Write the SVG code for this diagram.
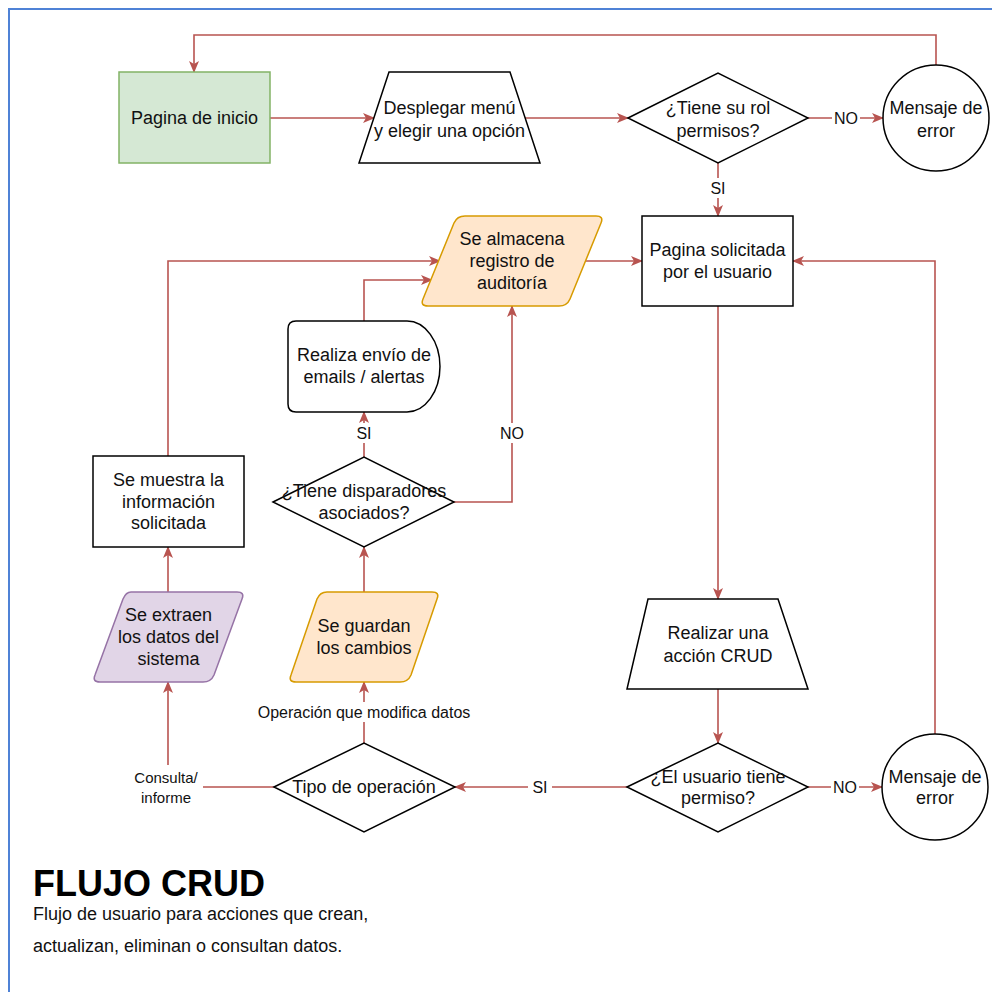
<svg xmlns="http://www.w3.org/2000/svg" width="992" height="992" viewBox="0 0 992 992">
<defs>
<marker id="arr" viewBox="0 0 12 10" refX="11" refY="5" markerWidth="12" markerHeight="10" markerUnits="userSpaceOnUse" orient="auto">
<path d="M0,0 L12,5 L0,10 L3,5 Z" fill="#b85450"/>
</marker>
<style>
.n{stroke:#000;stroke-width:1.5;fill:#fff}
.g{fill:#d5e8d4;stroke:#82b366;stroke-width:1.5}
.o{fill:#ffe6cc;stroke:#d79b00;stroke-width:1.5;stroke-linejoin:round}
.p{fill:#e1d5e7;stroke:#9673a6;stroke-width:1.5;stroke-linejoin:round}
.t{font-family:"Liberation Sans",Arial,sans-serif;font-size:18px;fill:#111;text-anchor:middle}
.c{fill:none;stroke:#b85450;stroke-width:1.6}
.l{font-family:"Liberation Sans",Arial,sans-serif;font-size:16px;fill:#111;text-anchor:middle}
.lb{fill:#fff}
</style>
</defs>
<rect x="9" y="9" width="1000" height="1000" fill="#fff" stroke="#4f82d6" stroke-width="2"/>

<g id="connectors">
<path class="c" d="M270,118 H374" marker-end="url(#arr)"/>
<path class="c" d="M525,118 H628" marker-end="url(#arr)"/>
<path class="c" d="M808,118 H883" marker-end="url(#arr)"/>
<path class="c" d="M718,163 V216" marker-end="url(#arr)"/>
<path class="c" d="M936,65 V35 H194 V72" marker-end="url(#arr)"/>
<path class="c" d="M718,306 V599" marker-end="url(#arr)"/>
<path class="c" d="M718,689 V743" marker-end="url(#arr)"/>
<path class="c" d="M808,787 H882" marker-end="url(#arr)"/>
<path class="c" d="M935,734 V261 H793" marker-end="url(#arr)"/>
<path class="c" d="M627,787 H455" marker-end="url(#arr)"/>
<path class="c" d="M364,743 V682" marker-end="url(#arr)"/>
<path class="c" d="M274,787 H168 V682" marker-end="url(#arr)"/>
<path class="c" d="M168,592 V547" marker-end="url(#arr)"/>
<path class="c" d="M168,456 V261 H440" marker-end="url(#arr)"/>
<path class="c" d="M364,592 V547" marker-end="url(#arr)"/>
<path class="c" d="M364,457 V412" marker-end="url(#arr)"/>
<path class="c" d="M364,321 V280 H432" marker-end="url(#arr)"/>
<path class="c" d="M454,502 H512 V306" marker-end="url(#arr)"/>
<path class="c" d="M584,261 H642" marker-end="url(#arr)"/>
<rect class="lb" x="832" y="108" width="28" height="20"/>
<text class="l" x="846" y="124">NO</text>
<rect class="lb" x="706" y="178" width="24" height="20"/>
<text class="l" x="718" y="194">SI</text>
<rect class="lb" x="831" y="777" width="28" height="20"/>
<text class="l" x="845" y="793">NO</text>
<rect class="lb" x="528" y="777" width="24" height="20"/>
<text class="l" x="540" y="793">SI</text>
<rect class="lb" x="352" y="423" width="24" height="20"/>
<text class="l" x="364" y="439">SI</text>
<rect class="lb" x="498" y="423" width="28" height="20"/>
<text class="l" x="512" y="439">NO</text>
<rect class="lb" x="254" y="702" width="220" height="20"/>
<text class="l" x="364" y="718">Operación que modifica datos</text>
<rect class="lb" x="131" y="765" width="72" height="42"/>
<text class="l" style="font-size:15px" x="166" y="783">Consulta/</text>
<text class="l" style="font-size:15px" x="166" y="803">informe</text>
</g>

<g id="inicio">
<rect class="g" x="119" y="72" width="151" height="91"/>
<text class="t" x="194.5" y="124">Pagina de inicio</text>
</g>
<g id="desplegar">
<path class="n" d="M389,72 H510 L540,163 H359 Z"/>
<text class="t" x="449.5" y="113.5">Desplegar menú</text>
<text class="t" x="449.5" y="136.5">y elegir una opción</text>
</g>
<g id="rol">
<path class="n" d="M628,118 L718,73 L808,118 L718,163 Z"/>
<text class="t" x="718" y="113.5">¿Tiene su rol</text>
<text class="t" x="718" y="136.5">permisos?</text>
</g>
<g id="error1">
<circle class="n" cx="936" cy="118" r="53"/>
<text class="t" x="936" y="113.5">Mensaje de</text>
<text class="t" x="936" y="136.5">error</text>
</g>
<g id="solicitada">
<rect class="n" x="642" y="216" width="151" height="90"/>
<text class="t" x="717.5" y="256">Pagina solicitada</text>
<text class="t" x="717.5" y="278">por el usuario</text>
</g>
<g id="auditoria">
<path class="o" d="M465,216 H596 Q604,216 601,223 L570,299 Q567,306 559,306 H428 Q420,306 423,299 L454,223 Q457,216 465,216 Z"/>
<text class="t" x="512" y="245">Se almacena</text>
<text class="t" x="512" y="267">registro de</text>
<text class="t" x="512" y="289">auditoría</text>
</g>
<g id="alertas">
<path class="n" d="M296,321 H407 A33,45.5 0 0 1 407,412 H296 Q288,412 288,404 V329 Q288,321 296,321 Z"/>
<text class="t" x="364" y="361">Realiza envío de</text>
<text class="t" x="364" y="383">emails / alertas</text>
</g>
<g id="disparadores">
<path class="n" d="M273,502 L364,457 L454,502 L364,547 Z"/>
<text class="t" x="364" y="497">¿Tiene disparadores</text>
<text class="t" x="364" y="519">asociados?</text>
</g>
<g id="muestra">
<rect class="n" x="93" y="456" width="151" height="91"/>
<text class="t" x="168.5" y="486">Se muestra la</text>
<text class="t" x="168.5" y="507.5">información</text>
<text class="t" x="168.5" y="529">solicitada</text>
</g>
<g id="extraen">
<path class="p" d="M131,592 H237 Q245,592 242,599 L214,675 Q211,682 203,682 H100 Q92,682 95,675 L123,599 Q126,592 131,592 Z"/>
<text class="t" x="168.5" y="621">Se extraen</text>
<text class="t" x="168.5" y="643">los datos del</text>
<text class="t" x="168.5" y="665">sistema</text>
</g>
<g id="guardan">
<path class="o" d="M327,592 H432 Q440,592 437,599 L411,675 Q408,682 400,682 H296 Q288,682 291,675 L317,599 Q320,592 327,592 Z"/>
<text class="t" x="364" y="632">Se guardan</text>
<text class="t" x="364" y="654">los cambios</text>
</g>
<g id="tipo">
<path class="n" d="M274,787 L364,743 L455,787 L364,832 Z"/>
<text class="t" x="364" y="793">Tipo de operación</text>
</g>
<g id="crud">
<path class="n" d="M648,599 H778 L808,689 H627 Z"/>
<text class="t" x="718" y="639">Realizar una</text>
<text class="t" x="718" y="662">acción CRUD</text>
</g>
<g id="permiso">
<path class="n" d="M627,787 L718,743 L808,787 L718,832 Z"/>
<text class="t" x="718" y="783">¿El usuario tiene</text>
<text class="t" x="718" y="804">permiso?</text>
</g>
<g id="error2">
<circle class="n" cx="935" cy="787" r="53"/>
<text class="t" x="935" y="783">Mensaje de</text>
<text class="t" x="935" y="804">error</text>
</g>

<g id="titulo">
<text x="33" y="896" style="font-family:'Liberation Sans',Arial,sans-serif;font-size:36px;font-weight:bold;fill:#000">FLUJO CRUD</text>
<text x="33" y="920" style="font-family:'Liberation Sans',Arial,sans-serif;font-size:18px;fill:#111">Flujo de usuario para acciones que crean,</text>
<text x="33" y="952" style="font-family:'Liberation Sans',Arial,sans-serif;font-size:18px;fill:#111">actualizan, eliminan o consultan datos.</text>
</g>
</svg>
